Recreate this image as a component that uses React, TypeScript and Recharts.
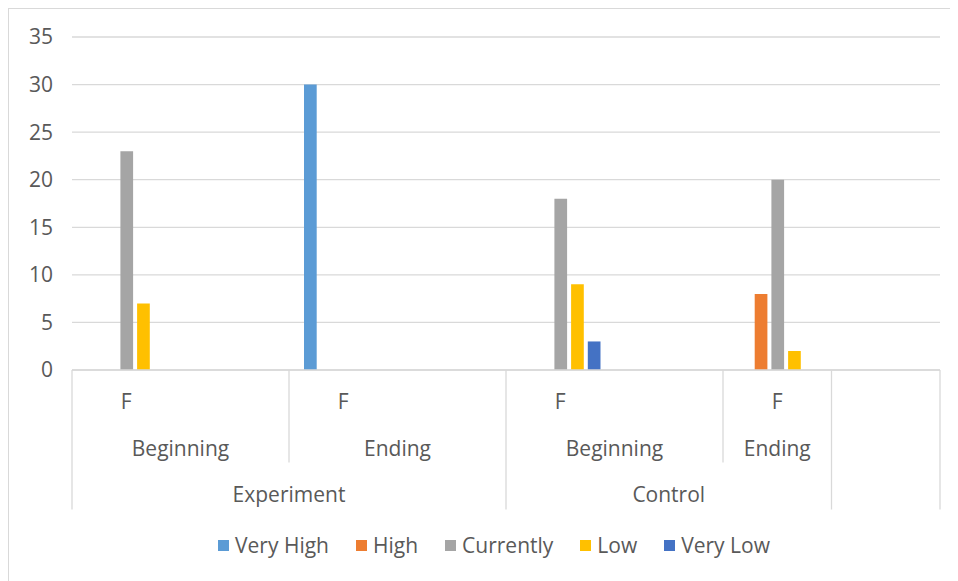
import React from 'react';
import { BarChart, Bar, XAxis, YAxis, CartesianGrid, Legend } from 'recharts';

// ---- data ----
const level3 = ['F', '', 'F', '', 'F', '', 'F', ''];
const level2 = ['Beginning', 'Beginning', 'Ending', 'Ending', 'Beginning', 'Beginning', 'Ending', ''];
const level1 = ['Experiment', 'Experiment', 'Experiment', 'Experiment', 'Control', 'Control', 'Control', ''];

const seriesNames = ['Very High', 'High', 'Currently', 'Low', 'Very Low'];
const seriesKeys = ['veryHigh', 'high', 'currently', 'low', 'veryLow'];
const seriesColors = ['#5B9BD5', '#ED7D31', '#A5A5A5', '#FFC000', '#4472C4'];

const veryHigh = [0, null, 30, null, 0, null, 0, null];
const high = [0, null, 0, null, 0, null, 8, null];
const currently = [23, null, 0, null, 18, null, 20, null];
const low = [7, null, 0, null, 9, null, 2, null];
const veryLow = [0, null, 0, null, 3, null, 0, null];

const yTicks = [0, 5, 10, 15, 20, 25, 30, 35];

// ---- layout ----
const FONT = '"Open Sans", sans-serif';
const FS = 21;
const TXT = '#595959';
const LINE = '#D9D9D9';
const W = 949;
const H = 572;
const MARGIN = { top: 28, right: 18, bottom: 1, left: 0 };
const Y_W = 63;
const X_H = 140;
const LEG_H = 70;
const PLOT_W = W - MARGIN.left - MARGIN.right - Y_W;

const data = level3.map((l, i) => ({
  key: `c${i}`,
  l3: l,
  veryHigh: veryHigh[i],
  high: high[i],
  currently: currently[i],
  low: low[i],
  veryLow: veryLow[i],
}));

const series = [veryHigh, high, currently, low, veryLow];

function isStart(arr: string[], parent: string[] | null, i: number) {
  return i === 0 || arr[i] !== arr[i - 1] || (parent !== null && parent[i] !== parent[i - 1]);
}
function spanLen(arr: string[], parent: string[] | null, i: number) {
  let j = i + 1;
  while (j < arr.length && arr[j] === arr[i] && (parent === null || parent[j] === parent[i])) j++;
  return j - i;
}

const AxisTick = (props: any) => {
  const { x, y, payload } = props;
  const i: number = props.index ?? payload.index;
  const n = level3.length;
  const band = PLOT_W / n;
  const left = x - band / 2;
  const els: any[] = [];
  if (level3[i]) {
    els.push(
      <text key="l3" x={x} y={y + 39} textAnchor="middle" fill={TXT} fontSize={FS} fontFamily={FONT}>
        {level3[i]}
      </text>
    );
  }
  if (isStart(level2, level1, i) && level2[i]) {
    const len = spanLen(level2, level1, i);
    els.push(
      <text key="l2" x={left + (len * band) / 2} y={y + 85.5} textAnchor="middle" fill={TXT} fontSize={FS} fontFamily={FONT}>
        {level2[i]}
      </text>
    );
  }
  if (isStart(level1, null, i) && level1[i]) {
    const len = spanLen(level1, null, i);
    els.push(
      <text key="l1" x={left + (len * band) / 2} y={y + 132} textAnchor="middle" fill={TXT} fontSize={FS} fontFamily={FONT}>
        {level1[i]}
      </text>
    );
  }
  if (isStart(level1, null, i)) {
    els.push(<line key="d1" x1={left} x2={left} y1={y} y2={y + 139.5} stroke={LINE} strokeWidth={1.3} />);
  } else if (isStart(level2, level1, i)) {
    els.push(<line key="d2" x1={left} x2={left} y1={y} y2={y + 92.5} stroke={LINE} strokeWidth={1.3} />);
  }
  if (i === n - 1) {
    els.push(<line key="dr" x1={left + band} x2={left + band} y1={y} y2={y + 139.5} stroke={LINE} strokeWidth={1.3} />);
  }
  return <g>{els}</g>;
};

const LegendContent = () => (
  <div
    style={{
      width: W - MARGIN.left - MARGIN.right,
      height: LEG_H,
      boxSizing: 'border-box',
      paddingLeft: 39,
      display: 'flex',
      alignItems: 'center',
      justifyContent: 'center',
      fontFamily: FONT,
      fontSize: FS,
      color: TXT,
    }}
  >
    {seriesNames.map((name, k) => (
      <div key={name} style={{ display: 'flex', alignItems: 'center', marginRight: k < seriesNames.length - 1 ? 27 : 0 }}>
        <span style={{ display: 'inline-block', width: 11, height: 11, background: seriesColors[k], marginRight: 6 }} />
        <span style={{ lineHeight: 1 }}>{name}</span>
      </div>
    ))}
  </div>
);

export default function App() {
  return (
    <div
      style={{
        width: W + 1,
        height: H + 1,
        borderLeft: `1px solid ${LINE}`,
        borderTop: `1px solid ${LINE}`,
        boxSizing: 'border-box',
        background: '#fff',
      }}
    >
      <BarChart width={W} height={H} data={data} margin={MARGIN} barSize={12.7} barGap={4}>
        <CartesianGrid vertical={false} stroke={LINE} strokeWidth={1.3} />
        <XAxis
          dataKey="key"
          height={X_H}
          interval={0}
          tickLine={false}
          tickSize={0}
          tickMargin={0}
          axisLine={{ stroke: LINE, strokeWidth: 1.3 }}
          tick={<AxisTick />}
        />
        <YAxis
          width={Y_W}
          domain={[0, 35]}
          ticks={yTicks}
          axisLine={false}
          tickLine={false}
          tickSize={6}
          tickMargin={13}
          tick={{ fill: TXT, fontSize: FS, fontFamily: FONT }}
        />
        <Legend verticalAlign="bottom" height={LEG_H} content={<LegendContent />} />
        {seriesKeys.map((k, idx) => (
          <Bar key={k} dataKey={k} name={seriesNames[idx]} fill={seriesColors[idx]} isAnimationActive={false} />
        ))}
      </BarChart>
    </div>
  );
}
